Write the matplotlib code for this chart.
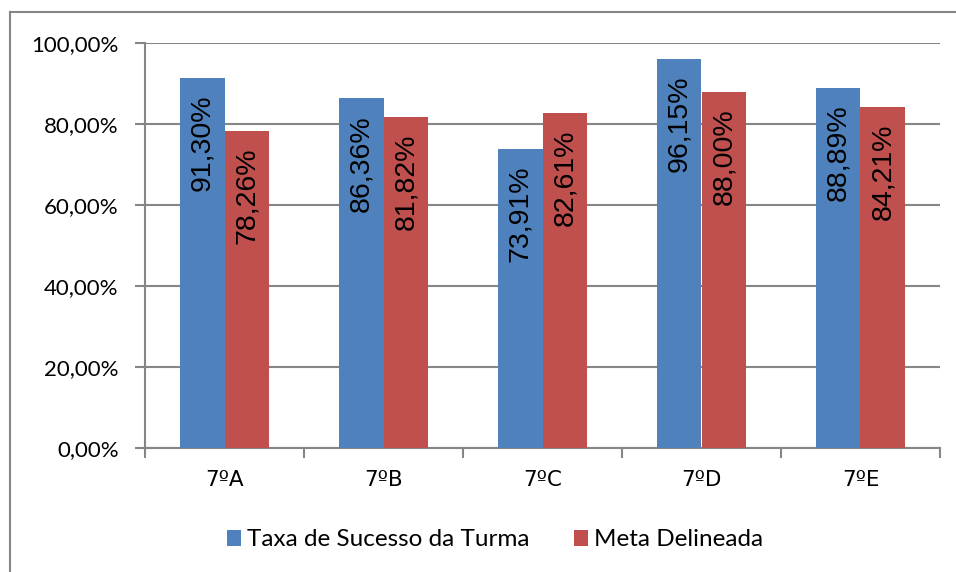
import matplotlib
matplotlib.use("Agg")
import matplotlib.pyplot as plt
from matplotlib.lines import Line2D
import numpy as np

categories = ["7ºA", "7ºB", "7ºC", "7ºD", "7ºE"]
taxa_sucesso = [91.30, 86.36, 73.91, 96.15, 88.89]
meta = [78.26, 81.82, 82.61, 88.00, 84.21]
series_names = ["Taxa de Sucesso da Turma", "Meta Delineada"]
yticks = [0, 20, 40, 60, 80, 100]

def fmt(v):
    return f"{v:.2f}".replace(".", ",") + "%"

blue = "#4F81BD"
red = "#C0504D"
gray = "#868686"

fig = plt.figure(figsize=(9.56, 5.72), dpi=100)
ax = fig.add_axes([145/956, 1-448/572, (940-145)/956, (448-43)/572])

x = np.arange(len(categories))
w = 0.283
b1 = ax.bar(x - w/2, taxa_sucesso, w, color=blue, label=series_names[0], zorder=3)
b2 = ax.bar(x + w/2, meta, w, color=red, label=series_names[1], zorder=3)

for bars, vals in ((b1, taxa_sucesso), (b2, meta)):
    for r, v in zip(bars, vals):
        ax.annotate(fmt(v), (r.get_x() + r.get_width()/2, v), xytext=(0, -12),
                    textcoords="offset points", rotation=90,
                    ha="center", va="top", fontsize=20.5, family="Liberation Sans",
                    color="black", zorder=4)

ax.set_xlim(-0.5, len(categories) - 0.5)
ax.set_ylim(0, 100)
ax.set_yticks(yticks)
ax.set_yticklabels([fmt(v) for v in yticks], fontsize=16, family="Lato")
ax.yaxis.grid(True, color=gray, linewidth=1.5, zorder=0)

ax.set_xticks(np.arange(len(categories) + 1) - 0.5)
ax.set_xticklabels([])
ax.set_xticks(x, minor=True)
ax.set_xticklabels(categories, minor=True, fontsize=15.5, family="DejaVu Sans")
ax.tick_params(axis="x", which="major", length=7, width=1.5, color=gray, direction="out")
ax.tick_params(axis="x", which="minor", length=0, pad=16)
ax.tick_params(axis="y", length=7, width=1.5, color=gray, direction="out", pad=12)

for s in ["top", "right"]:
    ax.spines[s].set_visible(False)
for s in ["left", "bottom"]:
    ax.spines[s].set_color(gray)
    ax.spines[s].set_linewidth(1.5)

leg = fig.legend(handles=[b1, b2], labels=series_names, loc="center",
                 bbox_to_anchor=(495/956, 1-540/572), ncol=2, frameon=False,
                 prop={"family": "Lato", "size": 17.5}, handlelength=0.6,
                 handleheight=0.6, handletextpad=0.25, columnspacing=1.8)

# outer chart border
fig.add_artist(Line2D([10/956, 10/956], [0, 1-12/572], transform=fig.transFigure,
                      color=gray, linewidth=1.5))
fig.add_artist(Line2D([10/956, 1], [1-12/572, 1-12/572], transform=fig.transFigure,
                      color=gray, linewidth=1.5))

fig.savefig("out.png", dpi=100)
